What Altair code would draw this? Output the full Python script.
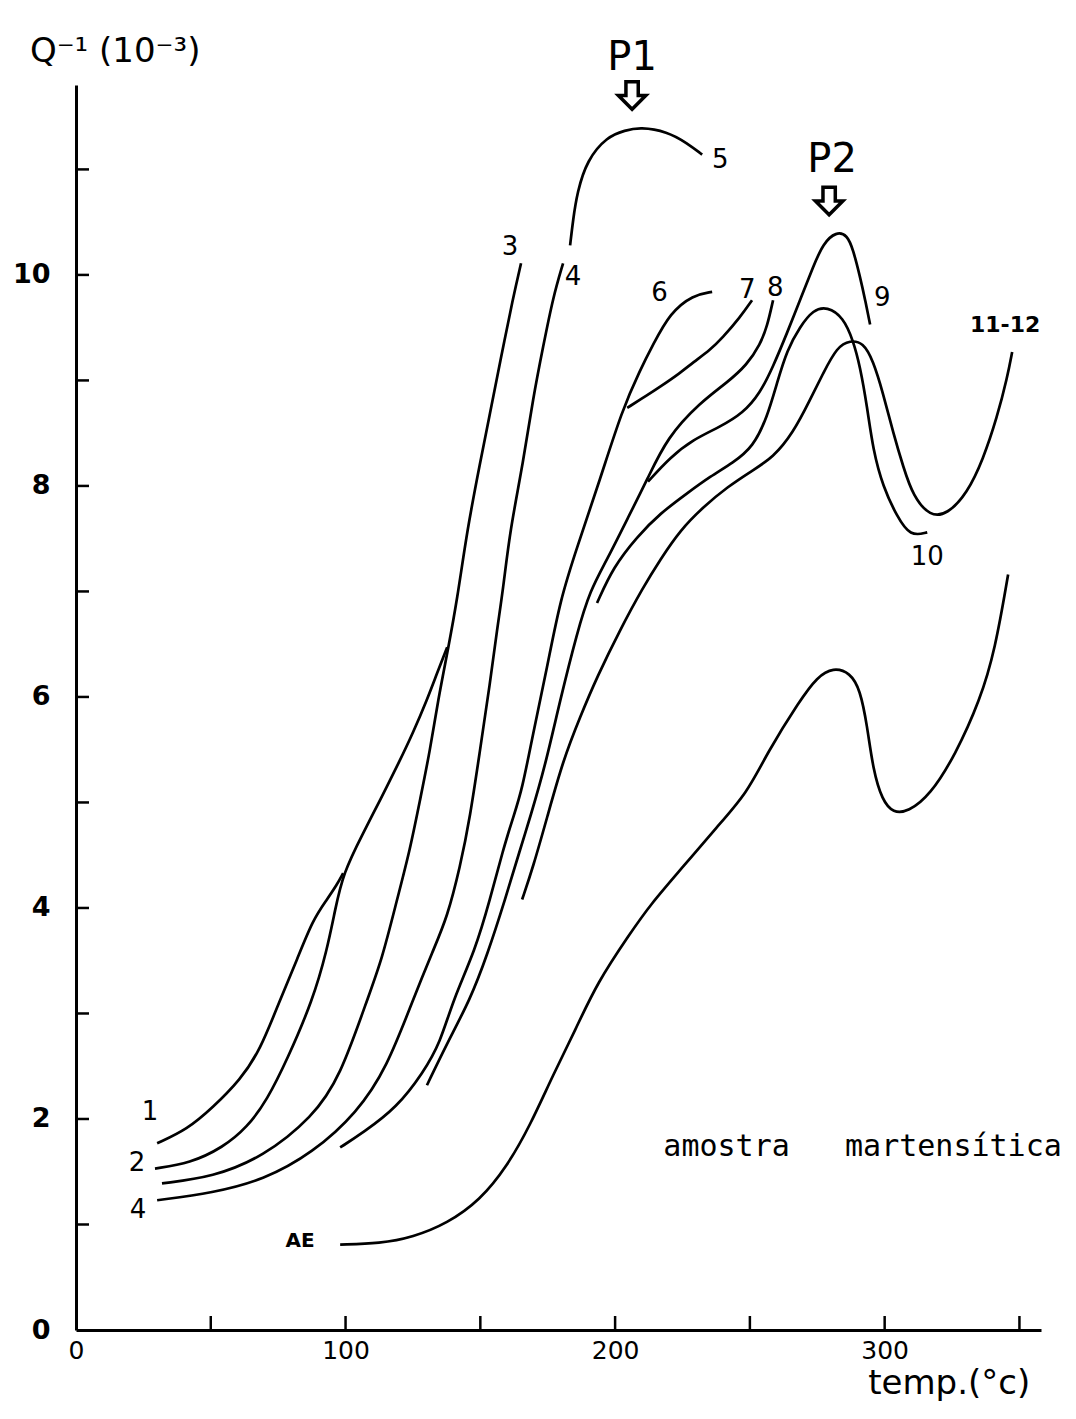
import altair as alt
import pandas as pd

# ---------------- data ----------------
c1_t = [30.1, 41.2, 50.8, 60.9, 68.3, 75.7, 82.0, 87.9, 93.1, 96.8, 99.1]
c1_q = [1.77, 1.90, 2.11, 2.37, 2.65, 3.13, 3.51, 3.89, 4.08, 4.22, 4.33]

c2_t = [29.3, 42.3, 54.5, 63.5, 70.9, 78.3, 87.9, 93.1, 96.1, 99.1, 106.5, 112.8, 120.2, 125.0, 130.2, 134.0, 137.7]
c2_q = [1.53, 1.58, 1.73, 1.92, 2.18, 2.56, 3.13, 3.60, 3.98, 4.33, 4.71, 5.02, 5.40, 5.66, 5.97, 6.23, 6.47]

c3_t = [31.9, 50.8, 69.4, 87.9, 98.0, 108.0, 113.5, 119.1, 123.9, 127.6, 131.4, 134.3, 138.0, 141.4, 145.1, 149.9, 153.6, 157.3, 162.2, 165.1]
c3_q = [1.39, 1.45, 1.64, 2.02, 2.40, 3.13, 3.51, 4.08, 4.55, 5.02, 5.50, 5.97, 6.45, 6.92, 7.58, 8.22, 8.69, 9.17, 9.79, 10.11]

c4_t = [30.1, 50.8, 69.4, 87.9, 104.3, 115.4, 125.0, 132.5, 137.7, 142.5, 146.2, 149.9, 153.6, 156.2, 158.4, 161.0, 165.9, 169.6, 173.3, 177.0, 180.7]
c4_q = [1.23, 1.30, 1.42, 1.68, 2.06, 2.49, 3.13, 3.60, 3.91, 4.39, 4.86, 5.50, 6.13, 6.64, 7.01, 7.58, 8.22, 8.84, 9.32, 9.79, 10.11]

c5_t = [183.3, 184.4, 185.9, 189.6, 197.0, 203.7, 209.3, 219.3, 226.7, 232.3]
c5_q = [10.28, 10.52, 10.78, 11.09, 11.31, 11.37, 11.40, 11.36, 11.25, 11.14]

c6_t = [98.0, 106.5, 119.1, 128.8, 135.1, 139.9, 148.1, 153.6, 158.4, 162.2, 165.5, 169.6, 174.8, 179.6, 185.9, 194.4, 202.6, 209.3, 214.1, 220.4, 228.9, 236.0]
c6_q = [1.73, 1.87, 2.11, 2.44, 2.72, 3.13, 3.60, 4.08, 4.55, 4.86, 5.12, 5.66, 6.28, 6.92, 7.42, 8.06, 8.72, 9.10, 9.34, 9.64, 9.81, 9.84]

c7_t = [204.5, 211.9, 216.7, 224.1, 228.9, 235.3, 239.7, 246.4, 250.8]
c7_q = [8.74, 8.86, 8.94, 9.07, 9.17, 9.29, 9.40, 9.60, 9.76]

c8_t = [130.2, 137.7, 146.2, 152.5, 159.2, 164.7, 168.5, 174.0, 179.6, 185.9, 190.7, 197.0, 205.6, 211.9, 219.3, 231.5, 241.6, 249.0, 253.8, 256.4, 258.6]
c8_q = [2.32, 2.72, 3.13, 3.55, 4.08, 4.55, 4.86, 5.34, 5.97, 6.61, 7.01, 7.30, 7.74, 8.06, 8.46, 8.79, 8.98, 9.15, 9.34, 9.51, 9.76]

c9_t = [212.2, 220.4, 228.9, 239.0, 247.5, 253.8, 258.6, 263.8, 268.6, 273.5, 277.2, 282.0, 286.1, 288.3, 290.9, 292.8, 294.6]
c9_q = [8.04, 8.27, 8.44, 8.56, 8.69, 8.88, 9.13, 9.45, 9.76, 10.08, 10.30, 10.41, 10.38, 10.24, 9.98, 9.76, 9.53]

c10_t = [193.3, 199.3, 208.2, 216.7, 226.7, 235.3, 243.8, 251.2, 256.4, 260.1, 263.8, 268.6, 273.5, 278.7, 284.6, 288.3, 290.9, 293.5, 295.7, 299.4, 304.6, 309.5, 315.8]
c10_q = [6.89, 7.23, 7.52, 7.74, 7.93, 8.09, 8.22, 8.37, 8.65, 8.98, 9.29, 9.51, 9.67, 9.70, 9.60, 9.38, 9.13, 8.75, 8.34, 7.99, 7.71, 7.52, 7.56]

c1112_t = [165.5, 169.6, 174.8, 180.7, 187.0, 193.3, 201.9, 210.4, 216.7, 224.1, 232.7, 241.6, 251.2, 258.6, 266.0, 272.4, 277.2, 282.4, 287.2, 292.0, 295.7, 299.4, 303.2, 306.9, 310.6, 316.9, 323.2, 330.6, 336.5, 341.7, 345.5, 347.3]
c1112_q = [4.08, 4.39, 4.86, 5.40, 5.81, 6.19, 6.64, 7.04, 7.30, 7.58, 7.80, 7.99, 8.15, 8.27, 8.50, 8.82, 9.07, 9.32, 9.38, 9.36, 9.19, 8.88, 8.50, 8.18, 7.90, 7.71, 7.73, 7.93, 8.25, 8.65, 9.03, 9.27]

ae_t = [98.0, 112.8, 125.0, 137.7, 149.9, 159.9, 168.5, 177.0, 185.2, 193.3, 205.6, 213.0, 225.2, 237.8, 249.0, 256.4, 268.6, 275.0, 280.9, 287.2, 290.9, 293.5, 295.7, 299.1, 303.2, 308.7, 316.9, 326.2, 335.4, 341.0, 345.8]
ae_q = [0.81, 0.82, 0.88, 1.01, 1.23, 1.55, 1.94, 2.42, 2.84, 3.29, 3.76, 4.03, 4.39, 4.77, 5.09, 5.47, 5.97, 6.19, 6.28, 6.23, 6.07, 5.73, 5.31, 5.02, 4.90, 4.91, 5.07, 5.45, 5.97, 6.45, 7.16]

curve_names = ["1", "2", "3", "4", "5", "6", "7", "8", "9", "10", "11-12", "AE"]
curve_t = [c1_t, c2_t, c3_t, c4_t, c5_t, c6_t, c7_t, c8_t, c9_t, c10_t, c1112_t, ae_t]
curve_q = [c1_q, c2_q, c3_q, c4_q, c5_q, c6_q, c7_q, c8_q, c9_q, c10_q, c1112_q, ae_q]

# curve labels
lab_text = ["1", "2", "4", "3", "4", "5", "6", "7", "8", "9", "10"]
lab_t = [27.5, 22.6, 23.0, 161.0, 184.4, 239.0, 216.5, 249.0, 259.4, 299.1, 315.8]
lab_q = [2.07, 1.58, 1.14, 10.26, 9.98, 11.09, 9.83, 9.86, 9.88, 9.78, 7.33]

peak_text = ["P1", "P2"]
peak_t = [206.3, 280.5]
peak_q = [12.06, 11.09]
arrow_t = [206.3, 279.4]
arrow_q = [11.70, 10.70]

note_text = ["amostra", "martensítica"]
note_t = [217.9, 285.3]
note_q = [1.73, 1.73]

x_label_vals = [0, 100, 200, 300]
y_label_vals = [0, 2, 4, 6, 8, 10]
x_tick_vals = [50, 100, 150, 200, 250, 300, 350]
y_tick_vals = [1, 2, 3, 4, 5, 6, 7, 8, 9, 10, 11]

# ---------------- chart ----------------
rows = []
for name, ts, qs in zip(curve_names, curve_t, curve_q):
    for i, (t, q) in enumerate(zip(ts, qs)):
        rows.append({"curve": name, "order": i, "t": t, "q": q})
df = pd.DataFrame(rows)

W, H = 965, 1245
xscale = alt.Scale(domain=[0, 358], nice=False, zero=False)
yscale = alt.Scale(domain=[0, 11.8], nice=False, zero=False)

lines = alt.Chart(df).mark_line(color="black", strokeWidth=2.7, interpolate="basis").encode(
    x=alt.X("t:Q", scale=xscale,
            axis=alt.Axis(values=x_label_vals, format="d", title=None, labelFontSize=25, labelPadding=8,
                          tickSize=0, ticks=False, labelFlush=False)),
    y=alt.Y("q:Q", scale=yscale,
            axis=alt.Axis(values=y_label_vals, format="d", title=None, labelFontSize=27, labelFontWeight="bold",
                          labelPadding=26, tickSize=0, ticks=False, labelFlush=False)),
    detail="curve:N",
    order="order:Q",
)

yt = alt.Chart(pd.DataFrame({"q": y_tick_vals})).mark_rule(color="black", strokeWidth=2.5).encode(
    y=alt.Y("q:Q", scale=yscale), x=alt.value(0), x2=alt.value(13))
xt = alt.Chart(pd.DataFrame({"t": x_tick_vals})).mark_rule(color="black", strokeWidth=2.5).encode(
    x=alt.X("t:Q", scale=xscale), y=alt.value(H), y2=alt.value(H - 14))

labels = alt.Chart(pd.DataFrame({"t": lab_t, "q": lab_q, "s": lab_text})).mark_text(
    fontSize=26, font="DejaVu Sans", color="black", align="center", baseline="middle").encode(
    x=alt.X("t:Q", scale=xscale), y=alt.Y("q:Q", scale=yscale), text="s:N")

lab1112 = alt.Chart(pd.DataFrame({"t": [344.7], "q": [9.53], "s": ["11-12"]})).mark_text(
    fontSize=22, font="DejaVu Sans", fontWeight="bold", color="black", align="center", baseline="middle").encode(
    x=alt.X("t:Q", scale=xscale), y=alt.Y("q:Q", scale=yscale), text="s:N")

labAE = alt.Chart(pd.DataFrame({"t": [83.1], "q": [0.84], "s": ["AE"]})).mark_text(
    fontSize=20, font="DejaVu Sans", fontWeight="bold", color="black", align="center", baseline="middle").encode(
    x=alt.X("t:Q", scale=xscale), y=alt.Y("q:Q", scale=yscale), text="s:N")

peaks = alt.Chart(pd.DataFrame({"t": peak_t, "q": peak_q, "s": peak_text})).mark_text(
    fontSize=40, font="DejaVu Sans", color="black", align="center", baseline="middle").encode(
    x=alt.X("t:Q", scale=xscale), y=alt.Y("q:Q", scale=yscale), text="s:N")

arrow_shape = "M-0.45,-1 L0.45,-1 L0.45,0 L1,0 L0,1 L-1,0 L-0.45,0 Z"
arrows = alt.Chart(pd.DataFrame({"t": arrow_t, "q": arrow_q})).mark_point(
    shape=arrow_shape, size=750, filled=False, color="black", strokeWidth=3.5, opacity=1).encode(
    x=alt.X("t:Q", scale=xscale), y=alt.Y("q:Q", scale=yscale))

ytitle = alt.Chart(pd.DataFrame({"t": [-17.1], "q": [12.11], "s": ["Q\u207b\u00b9 (10\u207b\u00b3)"]})).mark_text(
    fontSize=34, font="DejaVu Sans", color="black", align="left", baseline="middle").encode(
    x=alt.X("t:Q", scale=xscale), y=alt.Y("q:Q", scale=yscale), text="s:N")

xtitle = alt.Chart(pd.DataFrame({"t": [293.9], "q": [-0.51], "s": ["temp.(\u00b0c)"]})).mark_text(
    fontSize=34, font="DejaVu Sans", color="black", align="left", baseline="middle").encode(
    x=alt.X("t:Q", scale=xscale), y=alt.Y("q:Q", scale=yscale), text="s:N")

note = alt.Chart(pd.DataFrame({"t": note_t, "q": note_q, "s": note_text})).mark_text(
    fontSize=30, font="DejaVu Sans Mono", color="black", align="left", baseline="middle").encode(
    x=alt.X("t:Q", scale=xscale), y=alt.Y("q:Q", scale=yscale), text="s:N")

chart = alt.layer(lines, yt, xt, labels, lab1112, labAE, peaks, arrows, ytitle, xtitle, note).properties(
    width=W, height=H,
    padding={"left": 68, "top": 77, "right": 25, "bottom": 80},
    autosize=alt.AutoSizeParams(type="none"),
).configure_view(stroke=None).configure_axis(
    grid=False, domainColor="black", domainWidth=3, labelColor="black", labelFont="DejaVu Sans"
)

chart.save("out.html", embed_options={"renderer": "svg", "actions": False})
